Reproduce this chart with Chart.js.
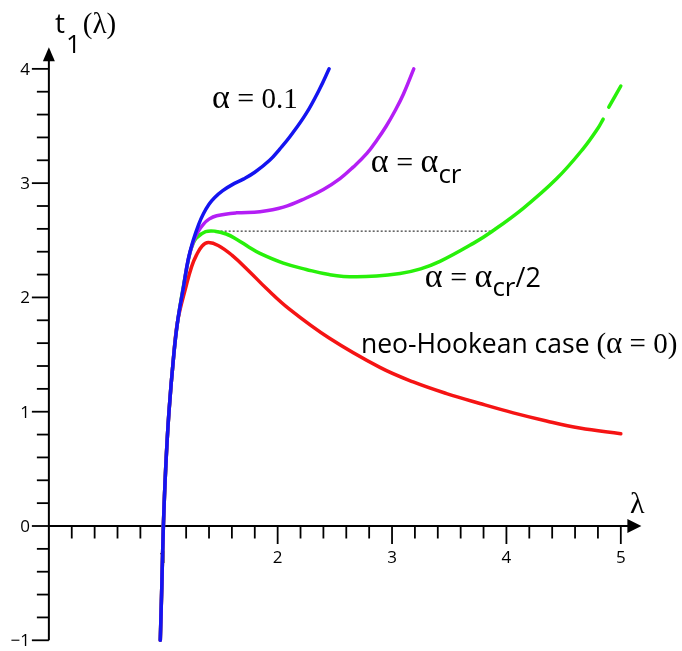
<!DOCTYPE html>
<html>
<head>
<meta charset="utf-8">
<script src="https://cdn.jsdelivr.net/npm/chart.js@4"></script>
<style>
  html, body { margin: 0; padding: 0; background: #fff; }
  canvas { display: block; }
</style>
</head>
<body>
<canvas id="stressChart" width="682" height="651"></canvas>
<script>
// --- Date: lambda si t1(lambda) pentru fiecare curba ---
const lamAlpha01 = [0.974, 0.988, 1.001, 1.021, 1.05, 1.092, 1.127, 1.175, 1.218, 1.262, 1.31, 1.35, 1.40, 1.45, 1.52, 1.60, 1.70, 1.80, 1.93, 2.02, 2.11, 2.25, 2.37, 2.45];
const tAlpha01   = [-1, -0.5, 0, 0.5, 1, 1.5, 1.8, 2.08, 2.33, 2.50, 2.64, 2.73, 2.815, 2.875, 2.935, 2.985, 3.035, 3.095, 3.20, 3.30, 3.41, 3.61, 3.83, 4.0];

const lamCrit = [0.974, 0.988, 1.001, 1.021, 1.05, 1.092, 1.127, 1.175, 1.218, 1.26, 1.30, 1.35, 1.40, 1.467, 1.64, 1.845, 2.05, 2.25, 2.40, 2.545, 2.66, 2.78, 2.87, 2.95, 3.03, 3.10, 3.19];
const tCrit   = [-1, -0.5, 0, 0.5, 1, 1.5, 1.8, 2.08, 2.33, 2.48, 2.57, 2.64, 2.685, 2.715, 2.74, 2.75, 2.79, 2.87, 2.945, 3.04, 3.14, 3.26, 3.38, 3.50, 3.64, 3.78, 4.0];

// curba verde are o mica intrerupere langa capat (valoarea null)
const lamHalfCrit = [0.974, 0.988, 1.001, 1.021, 1.05, 1.092, 1.127, 1.18, 1.233, 1.26, 1.29, 1.37, 1.45, 1.55, 1.64, 1.75, 1.845, 2.05, 2.25, 2.45, 2.69, 3.07, 3.25, 3.419, 3.71, 3.87, 4.147, 4.44, 4.67, 4.80, 4.846, 4.87, 4.895, 5.0];
const tHalfCrit   = [-1, -0.5, 0, 0.5, 1, 1.5, 1.8, 2.12, 2.39, 2.47, 2.52, 2.575, 2.58, 2.555, 2.51, 2.44, 2.385, 2.30, 2.245, 2.20, 2.18, 2.21, 2.25, 2.315, 2.473, 2.575, 2.78, 3.04, 3.30, 3.48, 3.56, null, 3.665, 3.85];

const lamNeo = [0.974, 0.988, 1.001, 1.021, 1.05, 1.092, 1.127, 1.2, 1.248, 1.29, 1.34, 1.393, 1.48, 1.60, 1.75, 1.90, 2.10, 2.45, 2.894, 3.185, 3.477, 3.768, 4.06, 4.35, 4.64, 5.0];
const tNeo   = [-1, -0.5, 0, 0.5, 1, 1.5, 1.8, 2.1, 2.27, 2.37, 2.45, 2.48, 2.455, 2.37, 2.23, 2.08, 1.90, 1.645, 1.388, 1.261, 1.159, 1.072, 0.990, 0.919, 0.858, 0.808];

// linia punctata orizontala
const lamTie = [1.467, 3.87];
const tTie   = [2.58, 2.58];

// --- Axe si etichete ---
const xTickValues = [1, 2, 3, 4, 5];
const xTickLabels = ['1', '2', '3', '4', '5'];
const yTickValues = [-1, 0, 1, 2, 3, 4];
const yTickLabels = ['\u22121', '0', '1', '2', '3', '4'];

const SERIF = '"Liberation Serif", "Times New Roman", serif';
const SANS = '"Open Sans", "DejaVu Sans", sans-serif';

const toPoints = (xs, ys) => xs.map((x, i) => ({ x: x, y: ys[i] }));

// Scrie un text compus din mai multe bucati cu fonturi diferite
function drawRuns(ctx, x, y, runs) {
    runs.forEach(run => {
        ctx.font = run.font;
        ctx.fillText(run.text, x, y + (run.dy || 0));
        x += ctx.measureText(run.text).width + (run.gap || 0);
    });
}

function arrowHead(ctx, tipX, tipY, dirX, dirY, len, half) {
    const bx = tipX - dirX * len, by = tipY - dirY * len;
    ctx.beginPath();
    ctx.moveTo(tipX, tipY);
    ctx.lineTo(bx - dirY * half, by + dirX * half);
    ctx.lineTo(bx + dirY * half, by - dirX * half);
    ctx.closePath();
    ctx.fill();
}

// Axele cu sageti, desenate prin scalele Chart.js
const axesPlugin = {
    id: 'arrowAxes',
    beforeDatasetsDraw(chart) {
        const { ctx, scales: { x, y } } = chart;
        const x0 = x.getPixelForValue(0);
        const y0 = y.getPixelForValue(0);
        ctx.save();
        ctx.strokeStyle = '#000';
        ctx.fillStyle = '#000';
        ctx.lineWidth = 2;

        // axa t1
        const yTip = y.getPixelForValue(4.19);
        ctx.beginPath();
        ctx.moveTo(x0, y.getPixelForValue(-1));
        ctx.lineTo(x0, yTip + 8);
        ctx.stroke();
        arrowHead(ctx, x0, yTip, 0, -1, 14, 6);

        // axa lambda
        const xTip = x.getPixelForValue(5.18);
        ctx.beginPath();
        ctx.moveTo(x0, y0);
        ctx.lineTo(xTip - 8, y0);
        ctx.stroke();
        arrowHead(ctx, xTip, y0, 1, 0, 14, 7);

        // gradatii
        ctx.lineWidth = 1.8;
        for (let i = -5; i <= 20; i++) {
            const py = y.getPixelForValue(i / 5);
            const len = i % 5 === 0 ? 17 : 12;
            ctx.beginPath();
            ctx.moveTo(x0 - len, py);
            ctx.lineTo(x0, py);
            ctx.stroke();
        }
        for (let i = 1; i <= 25; i++) {
            const px = x.getPixelForValue(i / 5);
            const len = i % 5 === 0 ? 18 : 12.5;
            ctx.beginPath();
            ctx.moveTo(px, y0);
            ctx.lineTo(px, y0 + len);
            ctx.stroke();
        }

        // etichete pe axe
        ctx.font = `17px ${SANS}`;
        ctx.textAlign = 'right';
        ctx.textBaseline = 'middle';
        yTickValues.forEach((v, i) => ctx.fillText(yTickLabels[i], x0 - 19, y.getPixelForValue(v) + 1));
        ctx.textAlign = 'center';
        ctx.textBaseline = 'top';
        xTickValues.forEach((v, i) => ctx.fillText(xTickLabels[i], x.getPixelForValue(v), y0 + 24));
        ctx.restore();
    },
    afterDraw(chart) {
        const { ctx, scales: { x, y } } = chart;
        const y0 = y.getPixelForValue(0);
        ctx.save();
        ctx.fillStyle = '#000';
        ctx.textAlign = 'left';
        ctx.textBaseline = 'alphabetic';

        // titlul axei verticale t1(lambda)
        drawRuns(ctx, 55, 33, [
            { text: 't', font: `28px ${SANS}`, gap: 1 },
            { text: '1', font: `26px ${SANS}`, dy: 20, gap: 2 },
            { text: '(\u03bb)', font: `29px ${SERIF}` }
        ]);
        // lambda langa sageata
        ctx.font = `30px ${SERIF}`;
        ctx.textAlign = 'center';
        ctx.fillText('\u03bb', x.getPixelForValue(5.18) - 4, y0 - 13);
        ctx.textAlign = 'left';

        const at = (lam, t) => [x.getPixelForValue(lam), y.getPixelForValue(t)];

        let [px, py] = at(1.425, 3.657);
        drawRuns(ctx, px, py, [
            { text: '\u03b1', font: `34px ${SERIF}` },
            { text: ' = ', font: `30px ${SERIF}` },
            { text: '0.1', font: `29px ${SERIF}` }
        ]);

        [px, py] = at(2.815, 3.10);
        drawRuns(ctx, px, py, [
            { text: '\u03b1', font: `34px ${SERIF}` },
            { text: ' = ', font: `30px ${SERIF}` },
            { text: '\u03b1', font: `34px ${SERIF}` },
            { text: 'cr', font: `26px ${SANS}`, dy: 11 }
        ]);

        [px, py] = at(3.287, 2.09);
        drawRuns(ctx, px, py, [
            { text: '\u03b1', font: `34px ${SERIF}` },
            { text: ' = ', font: `30px ${SERIF}` },
            { text: '\u03b1', font: `34px ${SERIF}` },
            { text: 'cr', font: `26px ${SANS}`, dy: 9 },
            { text: '/2', font: `27px ${SANS}` }
        ]);

        [px, py] = at(2.728, 1.512);
        drawRuns(ctx, px, py, [
            { text: 'neo-Hookean case ', font: `26.5px ${SANS}` },
            { text: '(', font: `29px ${SERIF}` },
            { text: '\u03b1', font: `31px ${SERIF}` },
            { text: ' = 0)', font: `29px ${SERIF}` }
        ]);
        ctx.restore();
    }
};

const curveStyle = {
    showLine: true,
    pointRadius: 0,
    borderWidth: 3.5,
    borderCapStyle: 'round',
    borderJoinStyle: 'round',
    tension: 0.4,
    spanGaps: false,
    fill: false
};

document.addEventListener('DOMContentLoaded', () => {
    new Chart(document.getElementById('stressChart'), {
        type: 'scatter',
        data: {
            datasets: [
                { ...curveStyle, label: 'alpha = 0.1', data: toPoints(lamAlpha01, tAlpha01), borderColor: '#1414f0' },
                { ...curveStyle, label: 'alpha = alpha_cr', data: toPoints(lamCrit, tCrit), borderColor: '#b41ef5' },
                { ...curveStyle, label: 'alpha = alpha_cr/2', data: toPoints(lamHalfCrit, tHalfCrit), borderColor: '#28f00a' },
                { ...curveStyle, label: 'neo-Hookean', data: toPoints(lamNeo, tNeo), borderColor: '#f51414' },
                {
                    label: 'tie line', data: toPoints(lamTie, tTie), showLine: true, pointRadius: 0,
                    borderColor: '#333', borderWidth: 1.2, borderDash: [2, 2], fill: false
                }
            ]
        },
        options: {
            responsive: false,
            animation: false,
            layout: { padding: { left: 26, right: 4, top: 6, bottom: 5 } },
            plugins: { legend: { display: false }, tooltip: { enabled: false } },
            scales: {
                x: { type: 'linear', min: -0.2, max: 5.5, display: false },
                y: { type: 'linear', min: -1.05, max: 4.55, display: false }
            }
        },
        plugins: [axesPlugin]
    });
});
</script>
</body>
</html>
